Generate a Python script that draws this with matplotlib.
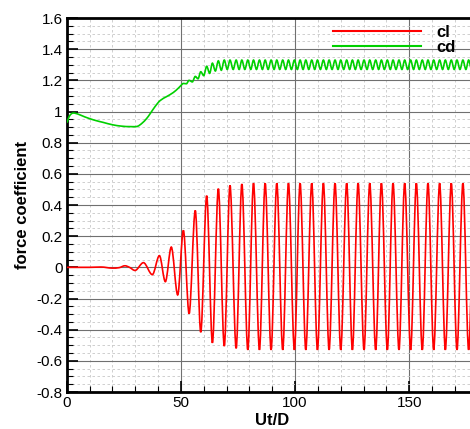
import matplotlib
matplotlib.use('Agg')
import matplotlib.pyplot as plt
from matplotlib.ticker import MultipleLocator, FormatStrFormatter
from matplotlib.path import Path
from matplotlib.patches import PathPatch
from matplotlib.lines import Line2D

# lift coefficient: extrema (Ut/D, value)
cl_t = [0, 10, 15, 20, 23, 25.5, 27.5, 29.9, 33.6, 37.5, 40.6, 43.2, 45.8,
        48.6, 51.1, 53.6, 56.3, 58.7, 61.3, 63.8, 66.4, 69.0, 71.5,
        74.2, 76.7, 79.3, 81.8, 84.4, 86.9, 89.5, 92.0, 94.6, 97.1,
        99.7, 102.2, 104.7, 107.3, 109.8, 112.4, 114.9, 117.5, 120.0, 122.6,
        125.1, 127.6, 130.2, 132.7, 135.3, 137.8, 140.4, 142.9, 145.5, 148.0,
        150.6, 153.1, 155.7, 158.2, 160.7, 163.3, 165.8, 168.4, 170.9, 173.5,
        176.0, 178.6]
cl_v = [0, 0, 0.002, -0.005, -0.002, 0.01, 0.0, -0.02, 0.03, -0.047, 0.075, -0.092, 0.13,
        -0.177, 0.237, -0.297, 0.365, -0.417, 0.46, -0.485, 0.505, -0.506, 0.526,
        -0.52, 0.535, -0.53, 0.54, -0.53, 0.54, -0.53, 0.54, -0.53, 0.54,
        -0.53, 0.54, -0.53, 0.54, -0.53, 0.54, -0.53, 0.54, -0.53, 0.54,
        -0.53, 0.54, -0.53, 0.54, -0.53, 0.54, -0.53, 0.54, -0.53, 0.54,
        -0.53, 0.54, -0.53, 0.54, -0.53, 0.54, -0.53, 0.54, -0.53, 0.54,
        -0.53, 0.54]

# drag coefficient
cd_t = [0, 1, 2, 3, 5, 8, 12, 16, 20, 24, 28, 31, 33, 35, 36.5, 38.7, 40.9,
        43.8, 46.7, 48.9, 49.9, 51.1, 52.4, 53.6, 55.0, 56.3, 57.5, 58.7,
        60.0, 61.3, 62.6, 63.8, 65.1, 66.4, 67.7, 69.0, 70.3, 71.5, 72.9,
        74.2, 75.5, 76.7, 78.0, 79.3, 80.6, 81.8, 83.1, 84.4, 85.7, 86.9,
        88.2, 89.5, 90.8, 92.0, 93.3, 94.6, 95.9, 97.1, 98.4, 99.7, 101.0,
        102.2, 103.5, 104.7, 106.0, 107.3, 108.6, 109.8, 111.1, 112.4, 113.7,
        114.9, 116.2, 117.5, 118.8, 120.0, 121.3, 122.6, 123.9, 125.1, 126.4,
        127.6, 128.9, 130.2, 131.5, 132.7, 134.0, 135.3, 136.6, 137.8, 139.1,
        140.4, 141.7, 142.9, 144.2, 145.5, 146.8, 148.0, 149.3, 150.6, 151.9,
        153.1, 154.4, 155.7, 157.0, 158.2, 159.5, 160.7, 162.0, 163.3, 164.6,
        165.8, 167.1, 168.4, 169.7, 170.9, 172.2, 173.5, 174.8, 176.0, 177.3]
cd_v = [0.93, 0.965, 0.985, 0.99, 0.983, 0.965, 0.945, 0.93, 0.915, 0.906, 0.903, 0.905, 0.925,
        0.955, 0.985, 1.032, 1.07,
        1.096, 1.122, 1.15, 1.165, 1.18, 1.178, 1.2, 1.19, 1.225, 1.21, 1.255,
        1.23, 1.29, 1.245, 1.31, 1.26, 1.325, 1.265, 1.33, 1.27, 1.33, 1.27,
        1.33, 1.27, 1.33, 1.27, 1.33, 1.27, 1.33, 1.27, 1.33, 1.27, 1.33,
        1.27, 1.33, 1.27, 1.33, 1.27, 1.33, 1.27, 1.33, 1.27, 1.33, 1.27,
        1.33, 1.27, 1.33, 1.27, 1.33, 1.27, 1.33, 1.27, 1.33, 1.27,
        1.33, 1.27, 1.33, 1.27, 1.33, 1.27, 1.33, 1.27, 1.33, 1.27,
        1.33, 1.27, 1.33, 1.27, 1.33, 1.27, 1.33, 1.27, 1.33, 1.27,
        1.33, 1.27, 1.33, 1.27, 1.33, 1.27, 1.33, 1.27, 1.33, 1.27,
        1.33, 1.27, 1.33, 1.27, 1.33, 1.27, 1.33, 1.27, 1.33, 1.27,
        1.33, 1.27, 1.33, 1.27, 1.33, 1.27, 1.33, 1.27, 1.33, 1.27]

RED = '#ff0000'
GREEN = '#00d000'


def smooth_path(t, v):
    # monotone-style cubic: flat tangent at extrema, centred slope elsewhere
    n = len(t)
    m = []
    for i in range(n):
        if i == 0 or i == n - 1:
            m.append(0.0)
        elif (v[i] - v[i - 1]) * (v[i + 1] - v[i]) <= 0:
            m.append(0.0)
        else:
            m.append((v[i + 1] - v[i - 1]) / (t[i + 1] - t[i - 1]))
    verts = [(t[0], v[0])]
    codes = [Path.MOVETO]
    for i in range(n - 1):
        dt = t[i + 1] - t[i]
        verts += [(t[i] + dt / 3, v[i] + m[i] * dt / 3),
                  (t[i + 1] - dt / 3, v[i + 1] - m[i + 1] * dt / 3),
                  (t[i + 1], v[i + 1])]
        codes += [Path.CURVE4] * 3
    return Path(verts, codes)


plt.rcParams['font.family'] = ['Liberation Sans', 'DejaVu Sans']

fig = plt.figure(figsize=(4.70, 4.29), dpi=100)
ax = fig.add_axes([66.7 / 470, 1 - 392 / 429, 1 - 66.7 / 470, (392 - 18) / 429])

ax.add_patch(PathPatch(smooth_path(cl_t, cl_v), fill=False, edgecolor=RED, lw=1.2, zorder=3))
ax.add_patch(PathPatch(smooth_path(cd_t, cd_v), fill=False, edgecolor=GREEN, lw=1.2, zorder=3))

ax.set_xlim(0, 176.6)
ax.set_ylim(-0.8, 1.6)
ax.xaxis.set_major_locator(MultipleLocator(50))
ax.xaxis.set_minor_locator(MultipleLocator(10))
ax.yaxis.set_major_locator(MultipleLocator(0.2))
ax.yaxis.set_minor_locator(MultipleLocator(0.05))
ax.yaxis.set_major_formatter(FormatStrFormatter('%g'))

ax.grid(which='major', color='#707070', lw=0.8, ls='-')
ax.grid(which='minor', color='#c8c8c8', lw=0.6, ls=(0, (3, 3)))
ax.set_axisbelow(True)

ax.tick_params(which='major', direction='in', length=8, width=1.2, labelsize=11,
               top=False, right=False, pad=3)
ax.tick_params(which='minor', direction='in', length=4, width=0.8, top=False, right=False)

for side in ['left', 'bottom', 'top']:
    ax.spines[side].set_linewidth(2)
ax.spines['right'].set_visible(False)

ax.set_xlabel('Ut/D', fontsize=12, fontweight='bold')
ax.xaxis.set_label_coords((272 - 66.7) / (470 - 66.7), -0.055)
ax.set_ylabel('force coefficient', fontsize=12, fontweight='bold')
ax.yaxis.set_label_coords(-0.092, 0.5)

handles = [Line2D([], [], color=RED, lw=1.5, label='cl'),
           Line2D([], [], color=GREEN, lw=1.5, label='cd')]
ax.legend(handles=handles, loc='upper left', bbox_to_anchor=(0.66, 0.982), frameon=False,
          prop={'weight': 'bold', 'size': 12}, handlelength=5.3, handletextpad=0.9,
          labelspacing=0.0, borderpad=0, borderaxespad=0)

fig.savefig('out.png', dpi=100)
